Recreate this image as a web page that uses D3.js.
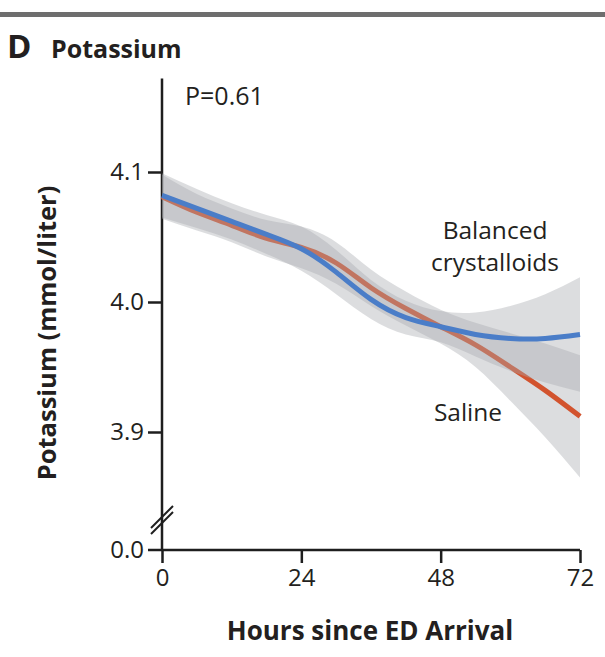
<!DOCTYPE html>
<html>
<head>
<meta charset="utf-8">
<script src="https://cdn.jsdelivr.net/npm/d3@7"></script>
<style>
  html, body { margin: 0; padding: 0; background: #fff; }
  svg { display: block; }
  text { font-family: "Open Sans", "Noto Sans", sans-serif; fill: #231f20; }
</style>
</head>
<body>
<svg id="chart" width="605" height="657"></svg>
<script>
// Hours since arrival at which the smoothed estimates are given
const hours = [0, 6, 12, 18, 24, 30, 36, 42, 48, 54, 60, 66, 72];

// Balanced crystalloids: smoothed mean potassium with 95% band (mmol/liter)
const balancedMean  = [4.082, 4.072, 4.062, 4.052, 4.041, 4.023, 4.002, 3.988, 3.981, 3.975, 3.972, 3.972, 3.975];
const balancedUpper = [4.099, 4.087, 4.076, 4.067, 4.058, 4.040, 4.017, 4.001, 3.993, 3.992, 3.997, 4.006, 4.019];
const balancedLower = [4.065, 4.057, 4.048, 4.037, 4.024, 4.006, 3.987, 3.975, 3.969, 3.958, 3.947, 3.938, 3.931];

// Saline: smoothed mean potassium with 95% band (mmol/liter)
const salineMean  = [4.081, 4.069, 4.059, 4.049, 4.042, 4.030, 4.011, 3.995, 3.981, 3.967, 3.950, 3.932, 3.912];
const salineUpper = [4.098, 4.083, 4.072, 4.063, 4.058, 4.046, 4.025, 4.008, 3.994, 3.984, 3.976, 3.968, 3.959];
const salineLower = [4.064, 4.055, 4.046, 4.035, 4.026, 4.014, 3.997, 3.982, 3.968, 3.950, 3.924, 3.896, 3.865];

// Axis ticks
const xTicks = [0, 24, 48, 72];
const yTicks = [4.1, 4.0, 3.9];
const yBreakLabel = "0.0";
const yTopValue = 4.172;   // upper end of the vertical axis line

const svg = d3.select("#chart");

const x = d3.scaleLinear().domain([0, 72]).range([162, 580]);
const y = d3.scaleLinear().domain([3.9, 4.1]).range([432, 172]);
const baseY = 550;   // position of the x axis (broken axis origin 0.0)

const ink = "#1e1e1e";
const labelInk = "#2a2a33";

// Panel rule and heading
svg.append("rect").attr("x", 0).attr("y", 12).attr("width", 605).attr("height", 5).attr("fill", "#6e6e6e");
svg.append("text").attr("x", 7).attr("y", 58).attr("font-size", 33).attr("font-weight", 700).text("D");
svg.append("text").attr("x", 51).attr("y", 58).attr("font-size", 25).attr("font-weight", 700).text("Potassium");

// Vertical axis line (broken between 3.9 and 0.0)
svg.append("line")
  .attr("x1", x(0)).attr("x2", x(0))
  .attr("y1", y(yTopValue)).attr("y2", baseY + 1)
  .attr("stroke", ink).attr("stroke-width", 2.5);

// Y axis ticks and labels
const yAxis = d3.axisLeft(y).tickValues(yTicks).tickSize(14).tickPadding(4)
  .tickFormat(d3.format(".1f"));
const gy = svg.append("g").attr("transform", `translate(${x(0)},0)`).call(yAxis);
gy.select(".domain").remove();
gy.selectAll(".tick line").attr("stroke", ink).attr("stroke-width", 2.5);
gy.selectAll(".tick text").attr("font-size", 24).attr("font-family", null).attr("fill", labelInk);

// Break tick at 0.0
svg.append("line").attr("x1", x(0) - 14).attr("x2", x(0))
  .attr("y1", baseY).attr("y2", baseY).attr("stroke", ink).attr("stroke-width", 2.5);
svg.append("text").attr("x", x(0) - 18).attr("y", baseY).attr("dy", "0.32em")
  .attr("text-anchor", "end").attr("font-size", 24).attr("fill", labelInk).text(yBreakLabel);

// Axis break marks
[0, 6].forEach(off => {
  svg.append("line")
    .attr("x1", x(0) - 11).attr("y1", 528 + off)
    .attr("x2", x(0) + 11).attr("y2", 506 + off)
    .attr("stroke", ink).attr("stroke-width", 2);
});

// X axis
const xAxis = d3.axisBottom(x).tickValues(xTicks).tickSize(13).tickPadding(6);
const gx = svg.append("g").attr("transform", `translate(0,${baseY})`).call(xAxis);
gx.select(".domain").attr("d", `M${x(0)},0H${x(72)}`).attr("stroke", ink).attr("stroke-width", 2.5);
gx.selectAll(".tick line").attr("stroke", ink).attr("stroke-width", 2.5);
gx.selectAll(".tick text").attr("font-size", 24).attr("font-family", null).attr("fill", labelInk);

// Axis titles
svg.append("text").attr("x", 370).attr("y", 640).attr("text-anchor", "middle")
  .attr("font-size", 26).attr("font-weight", 700).text("Hours since ED Arrival");
svg.append("text").attr("transform", "translate(56,333) rotate(-90)").attr("text-anchor", "middle")
  .attr("font-size", 25.5).attr("font-weight", 700).text("Potassium (mmol/liter)");

// Smoothed curves with confidence bands
const curve = d3.curveNatural;
const area = (lo, hi) => d3.area()
  .x((d, i) => x(hours[i]))
  .y0((d, i) => y(lo[i]))
  .y1((d, i) => y(hi[i]))
  .curve(curve)(hours);
const line = vals => d3.line()
  .x((d, i) => x(hours[i]))
  .y((d, i) => y(vals[i]))
  .curve(curve)(hours);

const bandFill = "rgb(168,170,176)";
const bandOpacity = 0.4;

svg.append("path").attr("d", area(salineLower, salineUpper))
  .attr("fill", bandFill).attr("fill-opacity", bandOpacity);
svg.append("path").attr("d", line(salineMean))
  .attr("fill", "none").attr("stroke", "#d2532e").attr("stroke-width", 5);
svg.append("path").attr("d", area(balancedLower, balancedUpper))
  .attr("fill", bandFill).attr("fill-opacity", bandOpacity);
svg.append("path").attr("d", line(balancedMean))
  .attr("fill", "none").attr("stroke", "#4a7dc8").attr("stroke-width", 5);

// Annotations
svg.append("text").attr("x", 185).attr("y", 105).attr("font-size", 25).text("P=0.61");
svg.append("text").attr("x", 495).attr("y", 239).attr("text-anchor", "middle").attr("font-size", 24.5).text("Balanced");
svg.append("text").attr("x", 495).attr("y", 271).attr("text-anchor", "middle").attr("font-size", 24.5).text("crystalloids");
svg.append("text").attr("x", 468).attr("y", 421).attr("text-anchor", "middle").attr("font-size", 24.5).text("Saline");
</script>
</body>
</html>
